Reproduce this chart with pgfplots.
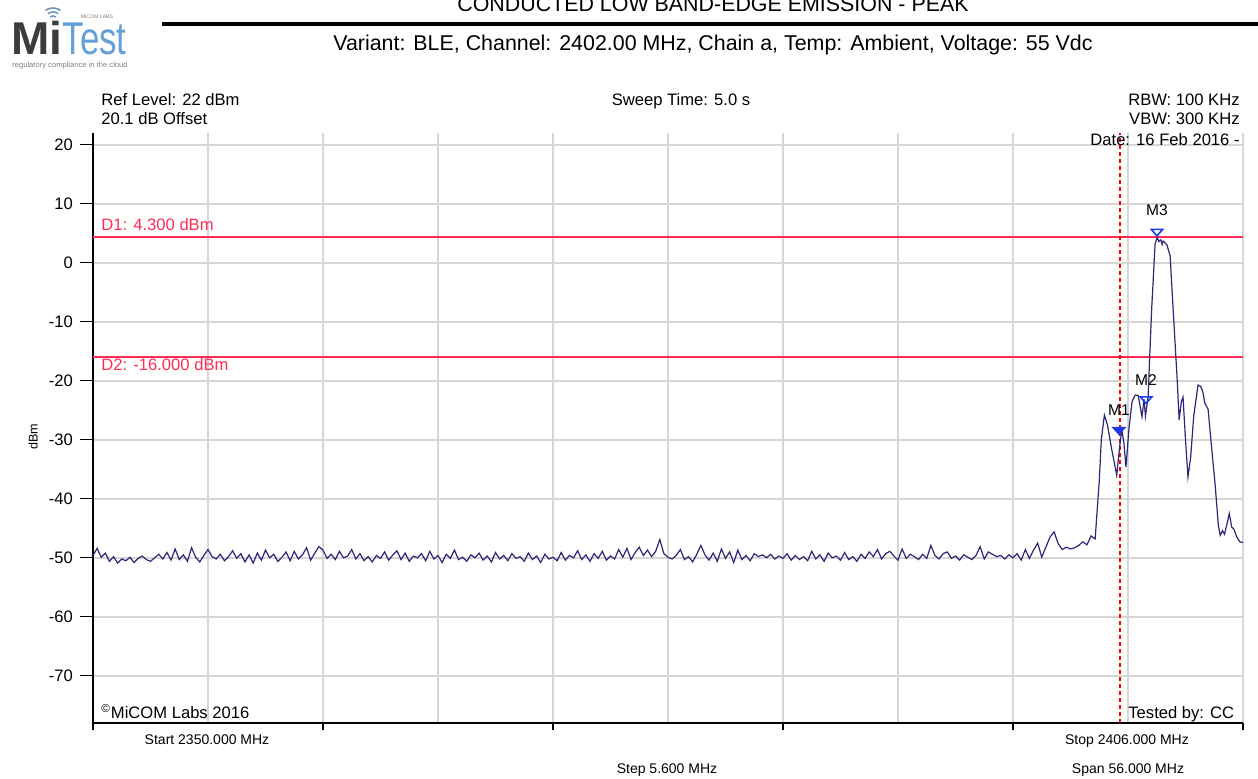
\documentclass[border=0pt]{standalone}
\usepackage{pgfplots}
\pgfplotsset{compat=1.18}
\usepackage{graphicx}
\usepackage{fontspec}
\setmainfont{Liberation Sans}

\definecolor{tracec}{RGB}{48,38,120}
\definecolor{dred}{RGB}{255,45,85}
\definecolor{gridc}{RGB}{214,214,214}
\definecolor{mblue}{RGB}{25,60,235}
\definecolor{logogray}{RGB}{60,60,60}
\definecolor{logoblue}{RGB}{100,160,215}

\pgfplotstableread{
f db
2350 4.3
2406 4.3
}\dOne
\pgfplotstableread{
f db
2350 -16
2406 -16
}\dTwo
\pgfplotstableread{
f db
2400 -78
2400 22
}\edge

\begin{document}
\begin{tikzpicture}
\begin{axis}[
    at={(0,0)}, anchor=south west,
    scale only axis, width=575pt, height=295pt,
    xmin=2350, xmax=2406, ymin=-78, ymax=22,
    axis x line*=bottom, axis y line*=left,
    axis line style={black, line width=0.75pt, -},
    xtick={2350,2355.6,2361.2,2366.8,2372.4,2378,2383.6,2389.2,2394.8,2400.4,2406},
    xticklabels={},
    every major x tick/.append style={draw=none},
    minor xtick={2350,2361.2,2372.4,2383.6,2394.8,2406},
    every minor x tick/.append style={draw=black, line width=0.6pt},
    minor tick length=3.5pt,
    ytick={-70,-60,...,20},
    major tick length=6.5pt,
    tick align=outside,
    every major y tick/.append style={black, line width=0.6pt},
    xmajorgrids, ymajorgrids,
    major grid style={gridc, line width=0.7pt},
    yticklabel style={font=\fontsize{8.3}{9}\selectfont},
    /pgf/number format/assume math mode=true,
    clip=false,
]

% limit lines and band edge
\addplot[no markers, line width=1pt, draw=dred] table[x=f, y=db] {\dOne};
\addplot[no markers, line width=1pt, draw=dred] table[x=f, y=db] {\dTwo};
\addplot[no markers, line width=1pt, draw=red, dash pattern=on 2pt off 1.5pt] table[x=f, y=db] {\edge};

% trace
\addplot[draw=tracec, line width=0.6pt, mark=none] coordinates {
(2350.0,-49.6) (2350.2,-48.4) (2350.4,-49.9) (2350.6,-49.2) (2350.8,-50.6) (2351.0,-49.8) (2351.2,-50.9) (2351.4,-50.2) (2351.6,-50.5) (2351.8,-49.9)
(2352.0,-50.8) (2352.2,-50.1) (2352.4,-49.7) (2352.6,-50.3) (2352.8,-50.6) (2353.0,-50.0) (2353.2,-49.4) (2353.4,-50.2) (2353.6,-49.1) (2353.8,-50.4)
(2354.0,-48.5) (2354.2,-50.3) (2354.4,-49.5) (2354.6,-50.6) (2354.8,-48.3) (2355.0,-49.9) (2355.2,-50.7) (2355.4,-49.6) (2355.6,-48.6) (2355.8,-49.8)
(2356.0,-50.2) (2356.2,-49.4) (2356.4,-50.5) (2356.6,-49.8) (2356.8,-48.8) (2357.0,-50.1) (2357.2,-49.3) (2357.4,-50.7) (2357.6,-49.5) (2357.8,-50.9)
(2358.0,-49.2) (2358.2,-50.4) (2358.4,-48.7) (2358.6,-50.0) (2358.8,-49.4) (2359.0,-50.6) (2359.2,-49.9) (2359.4,-49.0) (2359.6,-50.5) (2359.8,-48.9)
(2360.0,-50.2) (2360.2,-49.5) (2360.4,-48.3) (2360.6,-50.4) (2360.8,-49.2) (2361.0,-48.1) (2361.2,-48.7) (2361.4,-50.1) (2361.6,-49.4) (2361.8,-50.3)
(2362.0,-48.9) (2362.2,-50.0) (2362.4,-49.7) (2362.6,-48.6) (2362.8,-50.2) (2363.0,-49.3) (2363.2,-50.5) (2363.4,-49.8) (2363.6,-50.7) (2363.8,-49.6)
(2364.0,-50.1) (2364.2,-49.0) (2364.4,-50.4) (2364.6,-49.5) (2364.8,-48.8) (2365.0,-50.3) (2365.2,-49.2) (2365.4,-50.6) (2365.6,-49.7) (2365.8,-50.0)
(2366.0,-49.3) (2366.2,-50.5) (2366.4,-48.9) (2366.6,-50.2) (2366.8,-49.6) (2367.0,-50.8) (2367.2,-49.4) (2367.4,-50.1) (2367.6,-48.7) (2367.8,-50.3)
(2368.0,-49.9) (2368.2,-50.6) (2368.4,-49.5) (2368.6,-50.0) (2368.8,-49.2) (2369.0,-50.4) (2369.2,-49.7) (2369.4,-50.7) (2369.6,-49.1) (2369.8,-50.2)
(2370.0,-49.6) (2370.2,-50.5) (2370.4,-49.3) (2370.6,-50.1) (2370.8,-49.8) (2371.0,-50.6) (2371.2,-49.2) (2371.4,-50.3) (2371.6,-49.7) (2371.8,-50.8)
(2372.0,-49.4) (2372.2,-50.2) (2372.4,-49.9) (2372.6,-50.5) (2372.8,-49.1) (2373.0,-50.4) (2373.2,-49.6) (2373.4,-50.0) (2373.6,-48.8) (2373.8,-50.3)
(2374.0,-49.5) (2374.2,-50.6) (2374.4,-49.3) (2374.6,-50.1) (2374.8,-48.9) (2375.0,-50.4) (2375.2,-49.7) (2375.4,-50.2) (2375.6,-48.6) (2375.8,-49.9)
(2376.0,-48.4) (2376.2,-50.3) (2376.4,-49.1) (2376.6,-48.2) (2376.8,-49.6) (2377.0,-48.7) (2377.2,-49.8) (2377.4,-48.9) (2377.6,-46.9) (2377.8,-49.3)
(2378.0,-49.9) (2378.2,-50.2) (2378.4,-49.6) (2378.6,-48.6) (2378.8,-50.3) (2379.0,-49.8) (2379.2,-50.7) (2379.4,-49.4) (2379.6,-47.9) (2379.8,-49.5)
(2380.0,-50.4) (2380.2,-49.2) (2380.4,-50.6) (2380.6,-48.5) (2380.8,-50.1) (2381.0,-49.0) (2381.2,-50.8) (2381.4,-48.7) (2381.6,-50.3) (2381.8,-49.6)
(2382.0,-50.5) (2382.2,-49.3) (2382.4,-49.8) (2382.6,-49.5) (2382.8,-50.0) (2383.0,-49.4) (2383.2,-50.2) (2383.4,-49.7) (2383.6,-50.1) (2383.8,-49.3)
(2384.0,-50.4) (2384.2,-49.6) (2384.4,-50.3) (2384.6,-49.8) (2384.8,-50.5) (2385.0,-48.9) (2385.2,-50.2) (2385.4,-49.5) (2385.6,-50.6) (2385.8,-49.2)
(2386.0,-50.0) (2386.2,-49.7) (2386.4,-50.4) (2386.6,-49.1) (2386.8,-50.3) (2387.0,-49.8) (2387.2,-50.6) (2387.4,-49.4) (2387.6,-50.1) (2387.8,-49.0)
(2388.0,-49.8) (2388.2,-48.6) (2388.4,-50.2) (2388.6,-49.3) (2388.8,-48.9) (2389.0,-49.7) (2389.2,-50.4) (2389.4,-48.5) (2389.6,-50.1) (2389.8,-49.4)
(2390.0,-49.8) (2390.2,-50.3) (2390.4,-49.4) (2390.6,-50.1) (2390.8,-47.9) (2391.0,-49.6) (2391.2,-50.2) (2391.4,-49.3) (2391.6,-49.0) (2391.8,-50.1)
(2392.0,-49.7) (2392.2,-50.4) (2392.4,-49.5) (2392.6,-49.9) (2392.8,-50.3) (2393.0,-49.6) (2393.2,-48.1) (2393.4,-50.2) (2393.6,-49.0) (2393.8,-49.4)
(2394.0,-49.8) (2394.2,-49.6) (2394.4,-50.2) (2394.6,-49.5) (2394.8,-50.0) (2395.0,-49.3) (2395.2,-50.4) (2395.4,-48.6) (2395.6,-50.1) (2395.8,-48.7)
(2396.0,-47.5) (2396.2,-49.9) (2396.4,-48.2) (2396.6,-46.5) (2396.8,-45.6) (2397.0,-47.6) (2397.2,-48.6) (2397.4,-48.2) (2397.6,-48.5) (2397.8,-48.3)
(2398.0,-47.9) (2398.2,-47.3) (2398.4,-47.8) (2398.6,-46.3) (2398.8,-46.8)
(2399.0,-37.0) (2399.1,-30.0) (2399.25,-25.8) (2399.4,-27.5) (2399.6,-31.5) (2399.85,-36.0) (2400.0,-31.0) (2400.1,-28.3) (2400.2,-30.5) (2400.3,-34.6)
(2400.45,-28.0) (2400.6,-23.5) (2400.75,-22.4) (2400.9,-22.5) (2401.0,-24.5) (2401.08,-26.1) (2401.18,-23.1) (2401.25,-26.0) (2401.38,-22.6) (2401.55,-8.0)
(2401.72,3.2) (2401.82,4.3) (2401.9,3.6) (2402.0,3.9) (2402.06,3.1) (2402.11,3.7) (2402.2,3.4) (2402.3,3.0) (2402.45,1.2) (2402.6,-8.0)
(2402.79,-19.5) (2402.89,-26.6) (2403.0,-23.5) (2403.08,-22.8) (2403.2,-30.0) (2403.32,-36.3) (2403.45,-33.0) (2403.6,-26.0) (2403.81,-20.7) (2403.95,-21.0)
(2404.05,-22.0) (2404.14,-23.8) (2404.3,-24.8) (2404.45,-30.5) (2404.64,-37.5) (2404.8,-44.5) (2404.89,-46.2) (2405.0,-45.4) (2405.1,-46.0) (2405.25,-43.8)
(2405.33,-42.5) (2405.45,-44.8) (2405.55,-45.1) (2405.7,-46.5) (2405.85,-47.3) (2406.0,-47.4)
};

% markers
\addplot[only marks, mark=triangle*, mark size=3.3pt,
  mark options={rotate=180, yscale=0.65, draw=mblue, fill=mblue, line width=0.8pt}]
  coordinates {(2399.96,-28.3)};
\addplot[only marks, mark=triangle, mark size=3.3pt,
  mark options={rotate=180, yscale=0.65, draw=mblue, line width=0.8pt}]
  coordinates {(2401.28,-23.1) (2401.81,5.3)};
\node[font=\fontsize{7.8}{8}\selectfont] at (axis cs:2399.96,-25.0) {M1};
\node[font=\fontsize{7.8}{8}\selectfont] at (axis cs:2401.28,-19.9) {M2};
\node[font=\fontsize{7.8}{8}\selectfont] at (axis cs:2401.81,8.9) {M3};
\end{axis}

% header, annotations and footer, placed in image pixel units
\begin{scope}[shift={(-46.5pt,361.5pt)}, x=0.5pt, y=-0.5pt]
  % logo
  \node[anchor=base west, inner sep=0] at (11,55)
    {\fontsize{23}{23}\selectfont\textbf{\color{logogray}Mi}\color{logoblue}\scalebox{0.76}[1]{Test}};
  \foreach \r in {5,9,13}
    \draw[logoblue!70!gray, line width=0.8pt] (53,21) ++(235:\r) arc[start angle=235, end angle=305, radius=\r];
  \node[font=\fontsize{2.6}{3}\selectfont, text=gray, inner sep=0] at (97,17) {MiCOM LABS};
  \node[font=\fontsize{3.8}{4}\selectfont, text=gray, inner sep=0] at (70,66) {regulatory compliance in the cloud};
  % title
  \node[anchor=base, font=\fontsize{10.7}{11}\selectfont] at (713,12) {CONDUCTED LOW BAND-EDGE EMISSION - PEAK};
  \draw[black, line width=2.4pt] (162,24) -- (1258,24);
  \node[anchor=base, font=\fontsize{10.7}{11}\selectfont] at (713,51)
    {Variant: BLE, Channel: 2402.00 MHz, Chain a, Temp: Ambient, Voltage: 55 Vdc};
  % settings
  \begin{scope}[every node/.style={font=\fontsize{8.3}{9}\selectfont, inner sep=0}]
    \node[anchor=base west] at (101,106) {Ref Level: 22 dBm};
    \node[anchor=base west] at (101,125) {20.1 dB Offset};
    \node[anchor=base] at (681,106) {Sweep Time: 5.0 s};
    \node[anchor=base east] at (1240,106) {RBW: 100 KHz};
    \node[anchor=base east] at (1240,125) {VBW: 300 KHz};
    \node[anchor=base east] at (1240,146) {Date: 16 Feb 2016 -};
    \node[anchor=base west, text=dred] at (101,231) {D1: 4.300 dBm};
    \node[anchor=base west, text=dred] at (101,370) {D2: -16.000 dBm};
    \node[anchor=base west] at (101,718) {\textsuperscript{\copyright}MiCOM Labs 2016};
    \node[anchor=base west] at (1128,718) {Tested by: CC};
  \end{scope}
  \begin{scope}[every node/.style={font=\fontsize{7}{8}\selectfont, inner sep=0}]
    \node[anchor=base] at (207,744) {Start 2350.000 MHz};
    \node[anchor=base] at (1127,744) {Stop 2406.000 MHz};
    \node[anchor=base] at (667,773) {Step 5.600 MHz};
    \node[anchor=base] at (1128,773) {Span 56.000 MHz};
  \end{scope}
  \node[rotate=90, font=\fontsize{6.3}{7}\selectfont] at (33,437) {dBm};
\end{scope}

\pgfresetboundingbox
\path[use as bounding box] (-46.5pt,-27.5pt) rectangle (582.5pt,361.5pt);
\end{tikzpicture}
\end{document}
